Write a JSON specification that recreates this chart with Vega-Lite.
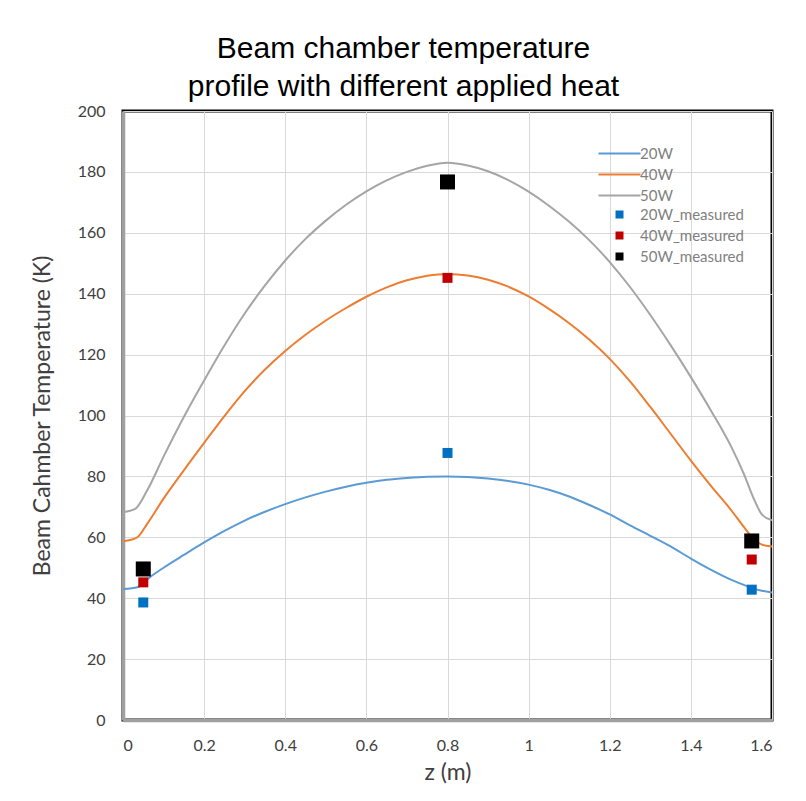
{
  "$schema": "https://vega.github.io/schema/vega-lite/v6.json",
  "width": 649,
  "height": 609,
  "autosize": {"type": "none"},
  "padding": {"left": 123, "top": 111, "right": 34, "bottom": 81},
  "background": "white",
  "title": {
    "text": ["Beam chamber temperature", "profile with different applied heat"],
    "font": "Liberation Sans",
    "fontSize": 30,
    "fontWeight": "normal",
    "color": "#000000",
    "lineHeight": 38,
    "anchor": "middle",
    "dx": -44,
    "offset": 1
  },
  "config": {
    "view": {"stroke": "#000000", "strokeWidth": 3},
    "axis": {
      "labelFont": "Lato",
      "titleFont": "Lato",
      "labelColor": "#404040",
      "titleColor": "#404040",
      "labelFontSize": 16,
      "titleFontSize": 23,
      "titleFontWeight": "normal",
      "gridColor": "#D9D9D9",
      "gridWidth": 1,
      "ticks": false,
      "domainColor": "#A0A0A0",
      "domainWidth": 3.5
    },
    "legend": {
      "labelFont": "Lato",
      "labelFontSize": 15,
      "labelColor": "#7F7F7F",
      "padding": 0,
      "rowPadding": 5,
      "symbolSize": 64,
      "labelOffset": 13,
      "orient": "none"
    }
  },
  "datasets": {
    "curves": [
      {"z": 0, "T": 43.0, "series": "20W"},
      {"z": 0.037, "T": 43.7, "series": "20W"},
      {"z": 0.07, "T": 47.3, "series": "20W"},
      {"z": 0.1, "T": 50.0, "series": "20W"},
      {"z": 0.15, "T": 54.2, "series": "20W"},
      {"z": 0.2, "T": 58.3, "series": "20W"},
      {"z": 0.25, "T": 62.1, "series": "20W"},
      {"z": 0.3, "T": 65.5, "series": "20W"},
      {"z": 0.35, "T": 68.4, "series": "20W"},
      {"z": 0.4, "T": 70.9, "series": "20W"},
      {"z": 0.45, "T": 73.1, "series": "20W"},
      {"z": 0.5, "T": 75.0, "series": "20W"},
      {"z": 0.55, "T": 76.6, "series": "20W"},
      {"z": 0.6, "T": 77.9, "series": "20W"},
      {"z": 0.65, "T": 78.9, "series": "20W"},
      {"z": 0.7, "T": 79.5, "series": "20W"},
      {"z": 0.75, "T": 79.9, "series": "20W"},
      {"z": 0.8, "T": 80.0, "series": "20W"},
      {"z": 0.85, "T": 79.8, "series": "20W"},
      {"z": 0.9, "T": 79.3, "series": "20W"},
      {"z": 0.95, "T": 78.5, "series": "20W"},
      {"z": 1.0, "T": 77.3, "series": "20W"},
      {"z": 1.05, "T": 75.6, "series": "20W"},
      {"z": 1.1, "T": 73.4, "series": "20W"},
      {"z": 1.15, "T": 70.6, "series": "20W"},
      {"z": 1.2, "T": 67.5, "series": "20W"},
      {"z": 1.25, "T": 63.9, "series": "20W"},
      {"z": 1.3, "T": 60.5, "series": "20W"},
      {"z": 1.35, "T": 57.0, "series": "20W"},
      {"z": 1.4, "T": 53.0, "series": "20W"},
      {"z": 1.45, "T": 49.3, "series": "20W"},
      {"z": 1.5, "T": 46.0, "series": "20W"},
      {"z": 1.54, "T": 43.9, "series": "20W"},
      {"z": 1.57, "T": 42.6, "series": "20W"},
      {"z": 1.6, "T": 41.9, "series": "20W"},
      {"z": 0, "T": 58.7, "series": "40W"},
      {"z": 0.035, "T": 60.0, "series": "40W"},
      {"z": 0.06, "T": 64.5, "series": "40W"},
      {"z": 0.1, "T": 72.7, "series": "40W"},
      {"z": 0.15, "T": 82.0, "series": "40W"},
      {"z": 0.2, "T": 91.0, "series": "40W"},
      {"z": 0.25, "T": 99.8, "series": "40W"},
      {"z": 0.3, "T": 108.0, "series": "40W"},
      {"z": 0.35, "T": 115.1, "series": "40W"},
      {"z": 0.4, "T": 121.2, "series": "40W"},
      {"z": 0.45, "T": 126.5, "series": "40W"},
      {"z": 0.5, "T": 131.2, "series": "40W"},
      {"z": 0.55, "T": 135.3, "series": "40W"},
      {"z": 0.6, "T": 139.0, "series": "40W"},
      {"z": 0.65, "T": 142.1, "series": "40W"},
      {"z": 0.7, "T": 144.4, "series": "40W"},
      {"z": 0.75, "T": 145.9, "series": "40W"},
      {"z": 0.8, "T": 146.5, "series": "40W"},
      {"z": 0.85, "T": 146.0, "series": "40W"},
      {"z": 0.9, "T": 144.6, "series": "40W"},
      {"z": 0.95, "T": 142.3, "series": "40W"},
      {"z": 1.0, "T": 139.1, "series": "40W"},
      {"z": 1.05, "T": 135.0, "series": "40W"},
      {"z": 1.1, "T": 130.3, "series": "40W"},
      {"z": 1.15, "T": 124.9, "series": "40W"},
      {"z": 1.2, "T": 118.6, "series": "40W"},
      {"z": 1.25, "T": 111.2, "series": "40W"},
      {"z": 1.3, "T": 102.8, "series": "40W"},
      {"z": 1.35, "T": 94.0, "series": "40W"},
      {"z": 1.4, "T": 85.2, "series": "40W"},
      {"z": 1.45, "T": 76.8, "series": "40W"},
      {"z": 1.5, "T": 68.8, "series": "40W"},
      {"z": 1.53, "T": 63.5, "series": "40W"},
      {"z": 1.555, "T": 59.4, "series": "40W"},
      {"z": 1.575, "T": 57.6, "series": "40W"},
      {"z": 1.6, "T": 57.0, "series": "40W"},
      {"z": 0, "T": 68.2, "series": "50W"},
      {"z": 0.03, "T": 69.3, "series": "50W"},
      {"z": 0.06, "T": 75.5, "series": "50W"},
      {"z": 0.1, "T": 86.5, "series": "50W"},
      {"z": 0.15, "T": 99.5, "series": "50W"},
      {"z": 0.2, "T": 111.5, "series": "50W"},
      {"z": 0.25, "T": 123.0, "series": "50W"},
      {"z": 0.3, "T": 133.5, "series": "50W"},
      {"z": 0.35, "T": 142.7, "series": "50W"},
      {"z": 0.4, "T": 150.9, "series": "50W"},
      {"z": 0.45, "T": 158.0, "series": "50W"},
      {"z": 0.5, "T": 164.0, "series": "50W"},
      {"z": 0.55, "T": 169.2, "series": "50W"},
      {"z": 0.6, "T": 173.6, "series": "50W"},
      {"z": 0.65, "T": 177.2, "series": "50W"},
      {"z": 0.7, "T": 180.0, "series": "50W"},
      {"z": 0.75, "T": 182.0, "series": "50W"},
      {"z": 0.8, "T": 183.0, "series": "50W"},
      {"z": 0.85, "T": 182.1, "series": "50W"},
      {"z": 0.9, "T": 180.2, "series": "50W"},
      {"z": 0.95, "T": 177.3, "series": "50W"},
      {"z": 1.0, "T": 173.5, "series": "50W"},
      {"z": 1.05, "T": 168.9, "series": "50W"},
      {"z": 1.1, "T": 163.6, "series": "50W"},
      {"z": 1.15, "T": 157.5, "series": "50W"},
      {"z": 1.2, "T": 150.4, "series": "50W"},
      {"z": 1.25, "T": 142.2, "series": "50W"},
      {"z": 1.3, "T": 133.0, "series": "50W"},
      {"z": 1.35, "T": 123.1, "series": "50W"},
      {"z": 1.4, "T": 112.6, "series": "50W"},
      {"z": 1.45, "T": 101.5, "series": "50W"},
      {"z": 1.5, "T": 89.6, "series": "50W"},
      {"z": 1.53, "T": 81.0, "series": "50W"},
      {"z": 1.556, "T": 72.4, "series": "50W"},
      {"z": 1.575, "T": 67.5, "series": "50W"},
      {"z": 1.6, "T": 65.6, "series": "50W"}
    ],
    "measured": [
      {"z": 0.05, "T": 38.6, "series": "20W_measured", "big": "no"},
      {"z": 0.8, "T": 87.7, "series": "20W_measured", "big": "no"},
      {"z": 1.55, "T": 42.8, "series": "20W_measured", "big": "no"},
      {"z": 0.05, "T": 45.2, "series": "40W_measured", "big": "no"},
      {"z": 0.8, "T": 145.2, "series": "40W_measured", "big": "no"},
      {"z": 1.55, "T": 52.7, "series": "40W_measured", "big": "no"},
      {"z": 0.05, "T": 49.6, "series": "50W_measured", "big": "yes"},
      {"z": 0.8, "T": 176.7, "series": "50W_measured", "big": "yes"},
      {"z": 1.55, "T": 58.8, "series": "50W_measured", "big": "yes"}
    ]
  },
  "layer": [
    {
      "data": {"name": "curves"},
      "mark": {"type": "line", "interpolate": "monotone", "strokeWidth": 2, "clip": true},
      "encoding": {
        "x": {
          "field": "z", "type": "quantitative",
          "scale": {"domain": [0, 1.6], "nice": false},
          "axis": {
            "title": "z (m)",
            "values": [0, 0.2, 0.4, 0.6, 0.8, 1, 1.2, 1.4, 1.6],
            "format": "~g",
            "labelPadding": 17,
            "titlePadding": 8
          }
        },
        "y": {
          "field": "T", "type": "quantitative",
          "scale": {"domain": [0, 200], "nice": false},
          "axis": {
            "title": "Beam Cahmber Temperature (K)",
            "values": [0, 20, 40, 60, 80, 100, 120, 140, 160, 180, 200],
            "labelPadding": 18,
            "titlePadding": 23
          }
        },
        "stroke": {
          "field": "series", "type": "nominal",
          "scale": {"domain": ["20W", "40W", "50W"], "range": ["#5B9BD5", "#ED7D31", "#A5A5A5"]},
          "legend": {
            "title": null,
            "symbolType": "M-5.25,0H5.25",
            "symbolStrokeWidth": 2,
            "legendX": 489,
            "legendY": 35
          }
        }
      }
    },
    {
      "data": {"name": "measured"},
      "mark": {"type": "square", "opacity": 1},
      "encoding": {
        "x": {"field": "z", "type": "quantitative"},
        "y": {"field": "T", "type": "quantitative"},
        "fill": {
          "field": "series", "type": "nominal",
          "scale": {"domain": ["20W_measured", "40W_measured", "50W_measured"], "range": ["#0070C0", "#C00000", "#000000"]},
          "legend": {
            "title": null,
            "symbolType": "square",
            "symbolStrokeWidth": 0,
            "legendX": 489,
            "legendY": 96
          }
        },
        "size": {
          "field": "big", "type": "nominal",
          "scale": {"domain": ["no", "yes"], "range": [100, 225]},
          "legend": null
        }
      }
    }
  ]
}
